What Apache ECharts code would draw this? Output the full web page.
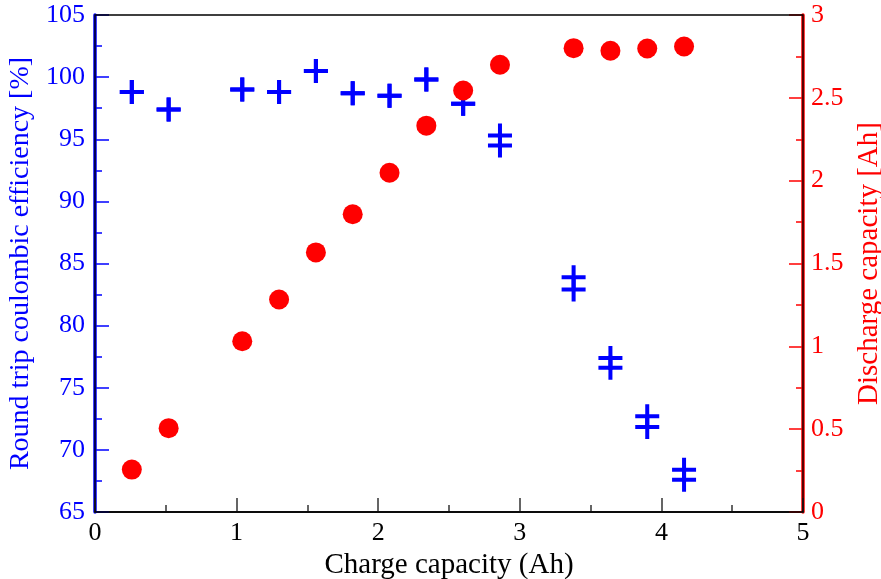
<!DOCTYPE html>
<html>
<head>
<meta charset="utf-8">
<script src="https://cdn.jsdelivr.net/npm/echarts@6/dist/echarts.min.js"></script>
<style>html,body{margin:0;padding:0;background:#fff}#c{width:881px;height:579px}</style>
</head>
<body>
<div id="c"></div>
<script>
// Data
var chargeCapacity = [0.26, 0.52, 1.04, 1.30, 1.56, 1.82, 2.08, 2.34, 2.60, 2.86, 3.38, 3.64, 3.90, 4.16];
var efficiencyUpper = [98.8, 97.4, 99.0, 98.8, 100.5, 98.7, 98.5, 99.8, 97.85, 95.3, 83.9, 77.4, 72.7, 68.4];
var efficiencyLower = [98.8, 97.4, 99.0, 98.8, 100.5, 98.7, 98.5, 99.8, 97.85, 94.5, 82.9, 76.6, 71.85, 67.6];
var dischargeCapacity = [0.256, 0.506, 1.031, 1.283, 1.567, 1.797, 2.048, 2.332, 2.544, 2.70, 2.80, 2.784, 2.798, 2.81];

function pairs(xs, ys) { return xs.map(function (x, i) { return [x, ys[i]]; }); }

var FONT = '"Liberation Serif", "DejaVu Serif", serif';
var plus = 'path://M10,0H14V10H24V14H14V24H10V14H0V10H10Z';

var chart = echarts.init(document.getElementById('c'), null, { renderer: 'canvas' });
var gl = 95, gt = 15, gr = 78, gb = 67;
chart.setOption({
  animation: false,
  backgroundColor: '#fff',
  grid: { left: gl, top: gt, right: gr, bottom: gb, show: false, containLabel: false, outerBoundsMode: 'none' },
  xAxis: {
    type: 'value', min: 0, max: 5, interval: 1,
    name: 'Charge capacity (Ah)', nameLocation: 'middle', nameGap: 26,
    nameTextStyle: { fontFamily: FONT, fontSize: 29, color: '#000' },
    axisLine: { lineStyle: { color: '#333', width: 2 } },
    axisTick: { inside: true, length: 14, lineStyle: { color: '#333', width: 1.5 } },
    minorTick: { show: true, splitNumber: 2, length: 7, lineStyle: { color: '#333', width: 1.5 } },
    axisLabel: { fontFamily: FONT, fontSize: 26, color: '#000', margin: 8 },
    splitLine: { show: false }
  },
  yAxis: [{
    type: 'value', min: 65, max: 105, interval: 5, position: 'left',
    name: 'Round trip coulombic efficiency [%]', nameLocation: 'middle', nameGap: 58,
    nameTextStyle: { fontFamily: FONT, fontSize: 28, color: '#0000ff' },
    axisLine: { lineStyle: { color: '#0000ff', width: 3.5 } },
    axisTick: { inside: true, length: 14, lineStyle: { color: '#0000ff', width: 1.5 } },
    minorTick: { show: true, splitNumber: 2, length: 7, lineStyle: { color: '#0000ff', width: 1.5 } },
    axisLabel: { fontFamily: FONT, fontSize: 26, color: '#0000ff', margin: 10 },
    splitLine: { show: false }
  }, {
    type: 'value', min: 0, max: 3, interval: 0.5, position: 'right',
    name: 'Discharge capacity [Ah]', nameLocation: 'middle', nameGap: 50, nameRotate: 90,
    nameTextStyle: { fontFamily: FONT, fontSize: 29, color: '#ff0000' },
    axisLine: { lineStyle: { color: '#ff0000', width: 3.5 } },
    axisTick: { inside: true, length: 14, lineStyle: { color: '#ff0000', width: 1.5 } },
    minorTick: { show: true, splitNumber: 2, length: 7, lineStyle: { color: '#ff0000', width: 1.5 } },
    axisLabel: { fontFamily: FONT, fontSize: 26, color: '#ff0000', margin: 8 },
    splitLine: { show: false }
  }],
  graphic: [{
    type: 'rect', z: 100, silent: true,
    shape: { x: gl, y: gt, width: 881 - gl - gr, height: 579 - gt - gb },
    style: { fill: 'none', stroke: '#000', lineWidth: 1.3 }
  }],
  series: [{
    type: 'scatter', yAxisIndex: 0, data: pairs(chargeCapacity, efficiencyUpper),
    symbol: plus, symbolSize: 24, itemStyle: { color: '#0000ff', opacity: 1 }, z: 2
  }, {
    type: 'scatter', yAxisIndex: 0, data: pairs(chargeCapacity, efficiencyLower),
    symbol: plus, symbolSize: 24, itemStyle: { color: '#0000ff', opacity: 1 }, z: 2
  }, {
    type: 'scatter', yAxisIndex: 1, data: pairs(chargeCapacity, dischargeCapacity),
    symbol: 'circle', symbolSize: 20, itemStyle: { color: '#ff0000', opacity: 1 }, z: 3
  }]
});
</script>
</body>
</html>
